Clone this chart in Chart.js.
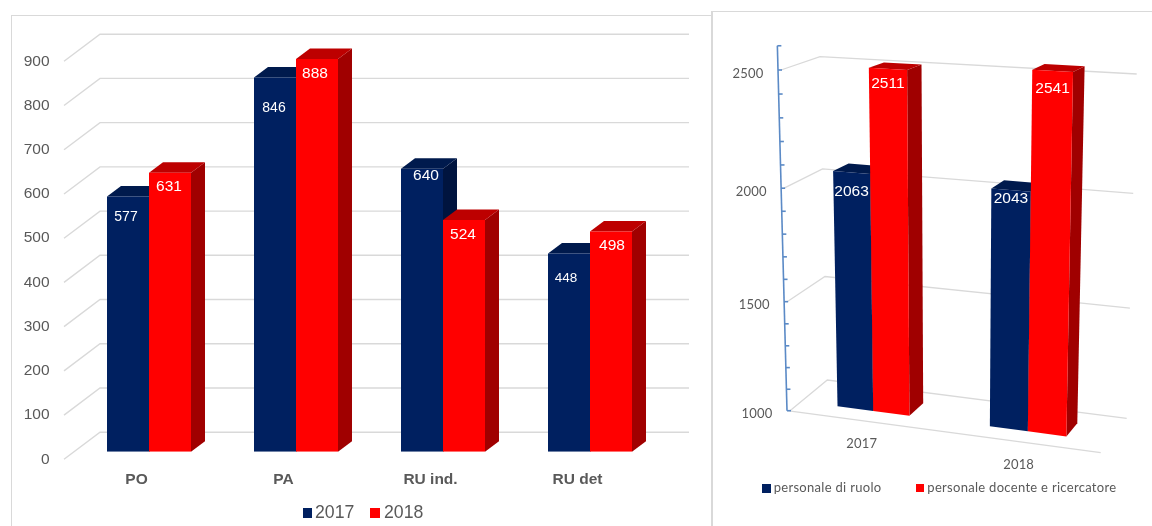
<!DOCTYPE html>
<html>
<head>
<meta charset="utf-8">
<script src="https://cdn.jsdelivr.net/npm/chart.js@4/dist/chart.umd.min.js"></script>
<style>
  html, body { margin: 0; padding: 0; background: #fff; overflow: hidden; }
  #page { position: relative; width: 1152px; height: 526px; overflow: hidden; }
  .panel { position: absolute; background: #fff; box-sizing: border-box; border: 0 solid #d9d9d9; }
  #leftPanel { left: 11px; top: 15px; width: 701px; height: 511px; border-width: 1.5px 0 0 1.5px; }
  #rightPanel { left: 711px; top: 11px; width: 441px; height: 515px; border-width: 1.5px 0 0 2px; }
  canvas { position: absolute; display: block; }
  #leftCanvas { left: 0; top: 0; }
  #rightCanvas { left: 713px; top: 13px; }
  .key { position: absolute; white-space: nowrap; color: #595959; }
  .box { position: absolute; }
</style>
</head>
<body>
<div id="page">
  <div class="panel" id="leftPanel"></div>
  <canvas id="leftCanvas" width="712" height="526"></canvas>
  <div class="panel" id="rightPanel"></div>
  <canvas id="rightCanvas" width="439" height="513"></canvas>
</div>
<script>
// left chart data
const roles = ["PO", "PA", "RU ind.", "RU det"];
const years = ["2017", "2018"];
const staff2017 = [577, 846, 640, 448];
const staff2018 = [631, 888, 524, 498];

// right chart data
const rightYears = ["2017", "2018"];
const rightSeries = ["personale di ruolo", "personale docente e ricercatore"];
const ruolo = [2063, 2043];
const docenti = [2511, 2541];

const NAVY = "#002060", NAVY_TOP = "#001a4d", NAVY_SIDE = "#00143f";
const RED = "#ff0000", RED_TOP = "#bd0000", RED_SIDE = "#a00000";
const GRID = "#d9d9d9", TEXT = "#595959";
const SANS = "'Liberation Sans', Arial, sans-serif";
const LATO = "Lato, 'Open Sans', sans-serif";

function fillPoly(ctx, pts, color) {
  ctx.fillStyle = color;
  ctx.beginPath();
  pts.forEach(function (p, i) { i ? ctx.lineTo(p[0], p[1]) : ctx.moveTo(p[0], p[1]); });
  ctx.closePath();
  ctx.fill();
}

function whiteLabel(ctx, text, x, y, size) {
  ctx.fillStyle = "#fff";
  ctx.font = size + "px " + SANS;
  ctx.textAlign = "center";
  ctx.textBaseline = "middle";
  ctx.fillText(text, x, y + 1);
}

//**** LEFT CHART ****
// box depth of the bars and of the floor, in px
const barDepth = { dx: 14, dy: -10.5 };
const wallBack = { dx: 24.5, dy: -19.5 };
const wallFront = { dx: -11.5, dy: 7.6 };
// labels are not in the same spot on every bar in the picture
const leftLabels = {
  drop: [[20, 29.5, 6.5, 24], [13.5, 13.5, 14, 13]],
  shift: [[-2, -1, 4, -3], [-1, -2, -1, 1]],
  size: [[14, 14, 15.5, 13.5], [15.5, 15.5, 15.5, 15.5]]
};

const leftBoxes = {
  id: "leftBoxes",
  beforeDatasetsDraw(chart) {
    const ctx = chart.ctx, y = chart.scales.y, a = chart.chartArea;
    ctx.save();
    ctx.strokeStyle = GRID;
    ctx.lineWidth = 1.4;
    y.ticks.forEach(function (t) {
      const p = y.getPixelForValue(t.value);
      ctx.beginPath();
      ctx.moveTo(a.left + wallFront.dx, p + wallFront.dy);
      ctx.lineTo(a.left + wallBack.dx, p + wallBack.dy);
      ctx.lineTo(a.right + wallBack.dx + 1, p + wallBack.dy);
      ctx.stroke();
    });
    const tops = [NAVY_TOP, RED_TOP], sides = [NAVY_SIDE, RED_SIDE];
    [0, 1].forEach(function (ds) {
      chart.getDatasetMeta(ds).data.forEach(function (bar) {
        const l = bar.x - bar.width / 2, r = bar.x + bar.width / 2, dx = barDepth.dx, dy = barDepth.dy;
        fillPoly(ctx, [[r, bar.base], [r + dx, bar.base + dy], [r + dx, bar.y + dy], [r, bar.y]], sides[ds]);
        fillPoly(ctx, [[l, bar.y], [l + dx, bar.y + dy], [r + dx, bar.y + dy], [r, bar.y]], tops[ds]);
      });
    });
    ctx.restore();
  },
  afterDatasetsDraw(chart) {
    const ctx = chart.ctx;
    ctx.save();
    chart.data.datasets.forEach(function (set, ds) {
      chart.getDatasetMeta(ds).data.forEach(function (bar, i) {
        whiteLabel(ctx, String(set.data[i]), bar.x + leftLabels.shift[ds][i], bar.y + leftLabels.drop[ds][i], leftLabels.size[ds][i]);
      });
    });
    ctx.restore();
  }
};

new Chart(document.getElementById("leftCanvas"), {
  type: "bar",
  data: {
    labels: roles,
    datasets: [
      { label: years[0], data: staff2017, backgroundColor: NAVY },
      { label: years[1], data: staff2018, backgroundColor: RED }
    ]
  },
  options: {
    responsive: false,
    animation: false,
    layout: { padding: { top: 53.7, right: 48.5, left: 0, bottom: 0 } },
    plugins: { legend: { display: false }, tooltip: { enabled: false } },
    datasets: { bar: { barPercentage: 1, categoryPercentage: 0.5714 } },
    scales: {
      x: {
        afterFit(scale) { scale.height = 74.3; },
        grid: { display: false, drawTicks: false },
        border: { display: false },
        ticks: { color: TEXT, font: { family: SANS, size: 15.5, weight: "bold" }, padding: 19, labelOffset: -12.5, maxRotation: 0, autoSkip: false }
      },
      y: {
        min: 0,
        max: 900,
        afterFit(scale) { scale.width = 75.5; },
        grid: { display: false, drawTicks: false },
        border: { display: false },
        ticks: { stepSize: 100, color: TEXT, font: { family: SANS, size: 15.5 }, padding: 26, labelOffset: 7.6 }
      }
    }
  },
  plugins: [leftBoxes]
});
//**** END OF LEFT CHART ****

//**** RIGHT CHART ****
// corners of the tilted box on the page, u along the categories, t up the
// axis (value 1000 to 2500), d from the front edge of the floor to the wall
const cornerFLB = [787, 410.7], cornerFRB = [1100.7, 452.7], cornerBLB = [827.3, 380], cornerBRB = [1126.7, 418.3];
const cornerFLT = [778, 70], cornerFRT = [1109, 90], cornerBLT = [820, 56.7], cornerBRT = [1136.7, 74];
const rightMin = 1000, rightRef = 2500;
const panelX = 713, panelY = 13;
const barD0 = 0.31, barD1 = 0.70;
const rightLabelDrop = [[18.5, 8], [14, 16.5]];

function mix(a, b, k) { return [a[0] + (b[0] - a[0]) * k, a[1] + (b[1] - a[1]) * k]; }

// page position of a point of the box, minus the canvas offset
function place(u, t, d) {
  const low = mix(mix(cornerFLB, cornerFRB, u), mix(cornerBLB, cornerBRB, u), d);
  const high = mix(mix(cornerFLT, cornerFRT, u), mix(cornerBLT, cornerBRT, u), d);
  const p = mix(low, high, t);
  return [p[0] - panelX, p[1] - panelY];
}

// foreshortening along the two axes
function warpU(s) { return s - 0.062 * s * (1 - s); }
function warpT(s) { return s * 0.9412 / (1 - 0.0588 * s); }

// from the library's pixels to box coordinates
function uOf(chart, px) { const a = chart.chartArea; return warpU((px - a.left) / (a.right - a.left)); }
function tOf(chart, py) {
  const y = chart.scales.y, v = y.getValueForPixel(py);
  return warpT((v - rightMin) / (rightRef - rightMin));
}

const tiltedBoxes = {
  id: "tiltedBoxes",
  beforeDatasetsDraw(chart) {
    const ctx = chart.ctx, y = chart.scales.y, x = chart.scales.x;
    ctx.save();
    // floor edge and walls
    ctx.strokeStyle = GRID;
    ctx.lineWidth = 1.3;
    const f0 = place(0, 0, 0), f1 = place(1, 0, 0);
    ctx.beginPath(); ctx.moveTo(f0[0], f0[1]); ctx.lineTo(f1[0], f1[1]); ctx.stroke();
    y.ticks.forEach(function (tk) {
      if (tk.value % 500) return;
      const t = tOf(chart, y.getPixelForValue(tk.value));
      const a = place(0, t, 0), b = place(0, t, 1), c = place(1, t, 1);
      ctx.beginPath();
      ctx.moveTo(a[0] + 3, a[1]);
      ctx.lineTo(b[0], b[1]);
      ctx.lineTo(c[0], c[1]);
      ctx.stroke();
    });
    // blue value axis with a mark on every tick
    const top = tOf(chart, y.getPixelForValue(y.max));
    const a0 = place(0, 0, 0), a1 = place(0, top, 0);
    ctx.strokeStyle = "#5b8ac6";
    ctx.lineWidth = 1.6;
    ctx.beginPath(); ctx.moveTo(a0[0], a0[1]); ctx.lineTo(a1[0], a1[1]); ctx.stroke();
    y.ticks.forEach(function (tk) {
      const p = place(0, tOf(chart, y.getPixelForValue(tk.value)), 0);
      ctx.beginPath(); ctx.moveTo(p[0], p[1]); ctx.lineTo(p[0] + 4, p[1]); ctx.stroke();
      if (tk.value % 500) return;
      ctx.fillStyle = TEXT;
      ctx.font = "13px " + LATO;
      ctx.letterSpacing = "0.2px";
      ctx.textAlign = "right";
      ctx.textBaseline = "middle";
      ctx.fillText(String(tk.value), p[0] - 14.5, p[1] + 3.5);
      ctx.letterSpacing = "0px";
    });
    // category names under the floor
    x.ticks.forEach(function (tk, i) {
      const p = place(uOf(chart, x.getPixelForTick(i)), 0, 0);
      ctx.fillStyle = TEXT;
      ctx.font = "13px " + LATO;
      ctx.letterSpacing = "0.2px";
      ctx.textAlign = "center";
      ctx.textBaseline = "middle";
      ctx.fillText(x.getLabelForValue(tk.value), p[0], p[1] + 23);
      ctx.letterSpacing = "0px";
    });
    // bars, navy first so that the red ones cover its side
    const fronts = [NAVY, RED], tops = [NAVY_TOP, RED_TOP], sides = [NAVY_SIDE, RED_SIDE];
    for (let i = 0; i < x.ticks.length; i++) {
      [0, 1].forEach(function (ds) {
        const bar = chart.getDatasetMeta(ds).data[i];
        const u0 = uOf(chart, bar.x - bar.width / 2), u1 = uOf(chart, bar.x + bar.width / 2);
        const t = tOf(chart, bar.y);
        fillPoly(ctx, [place(u1, 0, barD0), place(u1, 0, barD1), place(u1, t, barD1), place(u1, t, barD0)], sides[ds]);
        fillPoly(ctx, [place(u0, t, barD0), place(u0, t, barD1), place(u1, t, barD1), place(u1, t, barD0)], tops[ds]);
        fillPoly(ctx, [place(u0, 0, barD0), place(u1, 0, barD0), place(u1, t, barD0), place(u0, t, barD0)], fronts[ds]);
      });
    }
    chart.data.datasets.forEach(function (set, ds) {
      chart.getDatasetMeta(ds).data.forEach(function (bar, i) {
        const p = place(uOf(chart, bar.x), tOf(chart, bar.y), barD0);
        whiteLabel(ctx, String(set.data[i]), p[0], p[1] + rightLabelDrop[ds][i], 15.5);
      });
    });
    ctx.restore();
    return false; // the library's flat rectangles are replaced by the polygons above
  }
};

new Chart(document.getElementById("rightCanvas"), {
  type: "bar",
  data: {
    labels: rightYears,
    datasets: [
      { label: rightSeries[0], data: ruolo, backgroundColor: NAVY },
      { label: rightSeries[1], data: docenti, backgroundColor: RED }
    ]
  },
  options: {
    responsive: false,
    animation: false,
    plugins: { legend: { display: false }, tooltip: { enabled: false } },
    datasets: { bar: { barPercentage: 1, categoryPercentage: 0.48 } },
    scales: {
      x: { display: false },
      y: { display: false, min: 1000, max: 2600, ticks: { stepSize: 100 } }
    }
  },
  plugins: [tiltedBoxes]
});
//**** END OF RIGHT CHART ****

// legends, same colours as the datasets
function addKey(text, color, boxX, boxY, boxSize, textX, textY, css) {
  const page = document.getElementById("page");
  const b = document.createElement("div");
  b.className = "box";
  b.style.cssText = "left:" + boxX + "px;top:" + boxY + "px;width:" + boxSize + "px;height:" + boxSize + "px;background:" + color;
  page.appendChild(b);
  const s = document.createElement("div");
  s.className = "key";
  s.textContent = text;
  s.style.cssText = "left:" + textX + "px;top:" + textY + "px;line-height:20px;" + css;
  page.appendChild(s);
}
const leftKeyFont = "font:17.7px " + SANS;
addKey(years[0], NAVY, 302.5, 508, 9.5, 315, 502, leftKeyFont);
addKey(years[1], RED, 370, 508, 9.5, 384, 502, leftKeyFont);
const rightKeyFont = "font:13px " + LATO + ";letter-spacing:0.3px";
addKey(rightSeries[0], NAVY, 762, 483.5, 9, 773.7, 479, rightKeyFont);
addKey(rightSeries[1], RED, 916, 483.5, 8, 927.3, 479, rightKeyFont);
</script>
</body>
</html>
